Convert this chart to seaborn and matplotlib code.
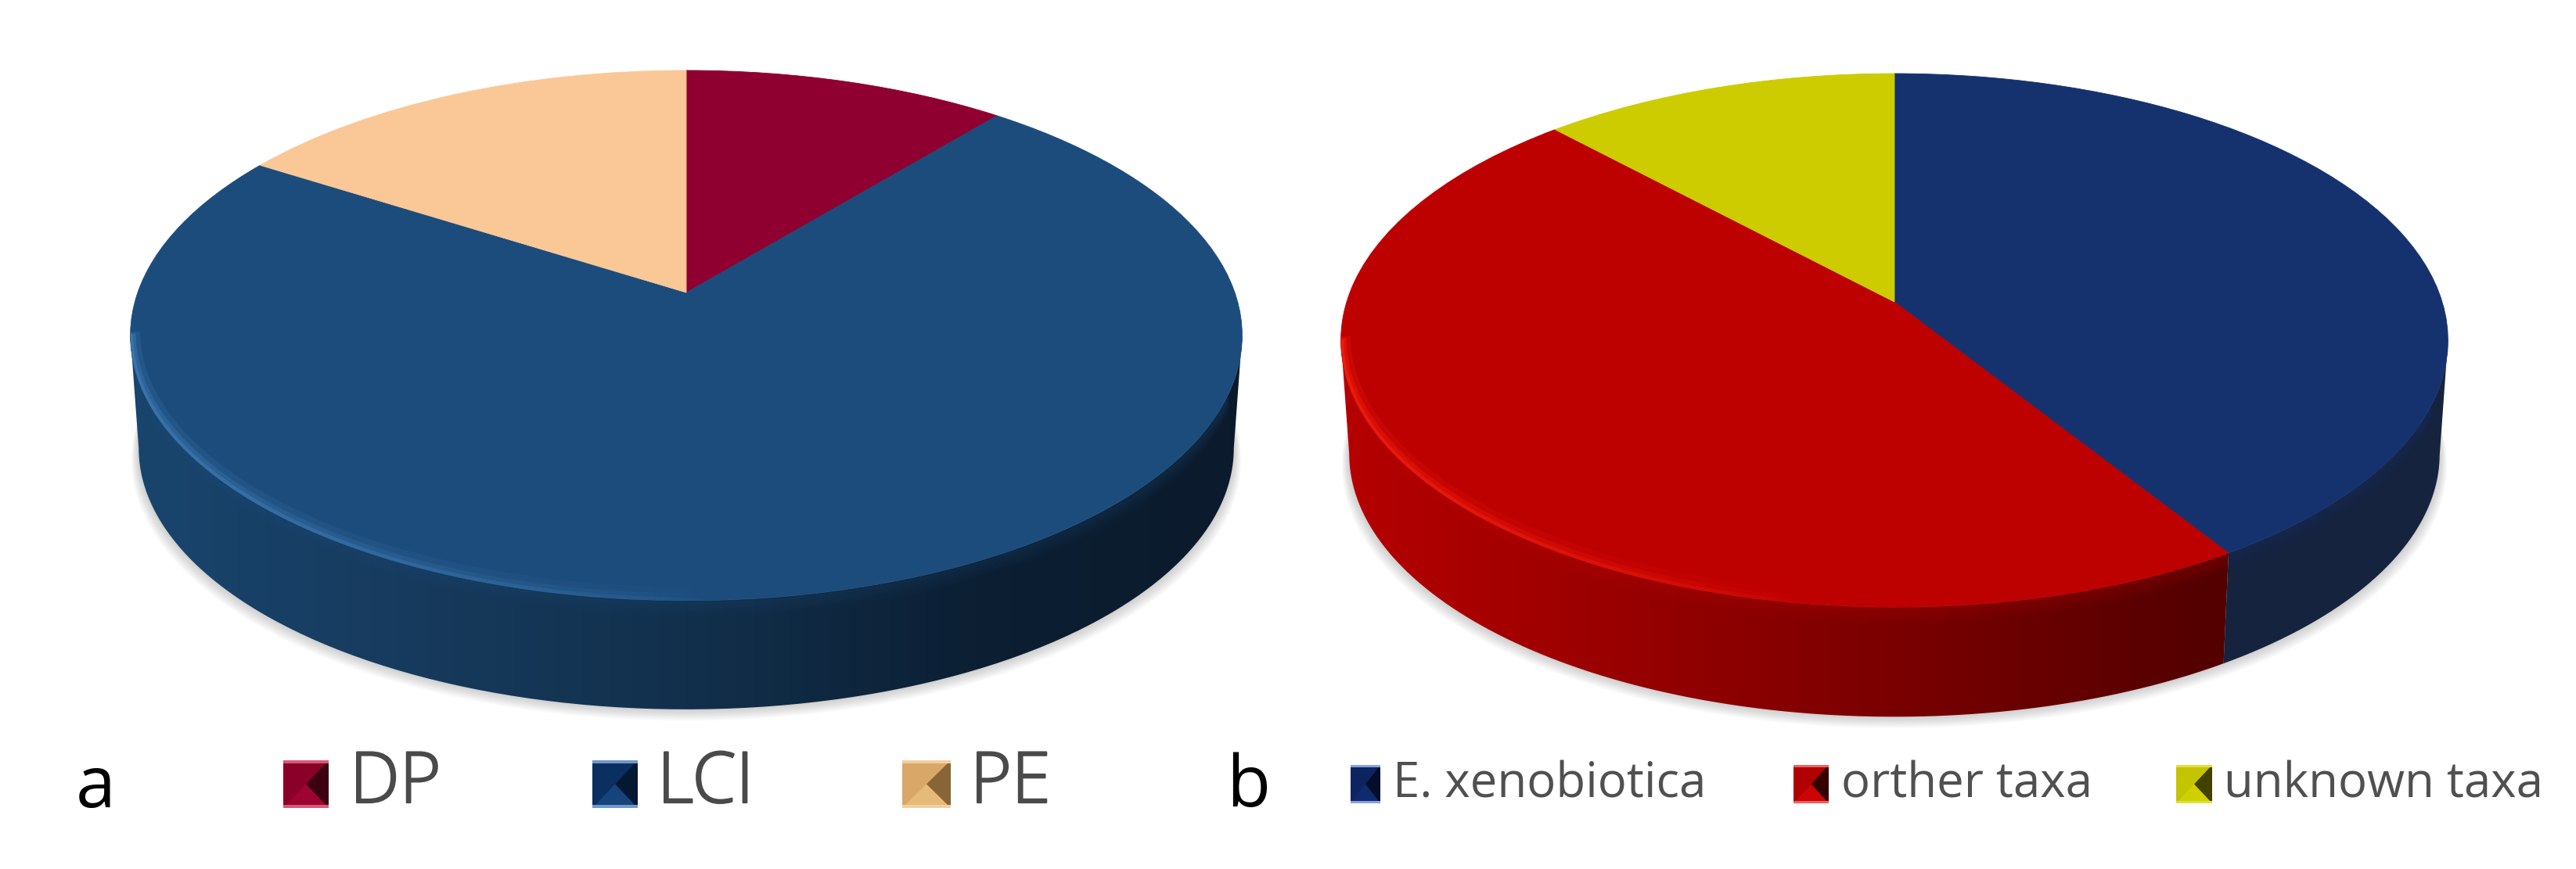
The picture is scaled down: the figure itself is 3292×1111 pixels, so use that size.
import numpy as np
import seaborn as sns
import matplotlib.pyplot as plt
import matplotlib.patheffects as pe
from matplotlib.collections import LineCollection
from matplotlib.colors import LinearSegmentedColormap, to_rgb
from matplotlib.patches import PathPatch
from matplotlib.path import Path
from matplotlib.transforms import Transform

# Panel a
labels_a = ["DP", "LCI", "PE"]
values_a = [11, 73, 16]
top_colors_a = ["#8f0030", "#1c4c7c", "#fac896"]
wall_colors_a = [
    ["#5a001e", "#5a001e"],
    ["#19466f", "#173b5e", "#12304c", "#0c1f33", "#0b1a2b"],
    ["#b08a60", "#b08a60"],
]
rim_colors_a = ["#b0204c", "#3f7ab2", "#ffe0b8"]

# Panel b
labels_b = ["E. xenobiotica", "orther taxa", "unknown taxa"]
values_b = [41, 47, 12]
top_colors_b = ["#15326f", "#bd0000", "#cccc00"]
wall_colors_b = [
    ["#15233f", "#15233f"],
    ["#b80000", "#9a0000", "#7a0000", "#560000", "#470000"],
    ["#8a8a00", "#8a8a00"],
]
rim_colors_b = ["#2a4a90", "#f42010", "#e8e820"]


class DiskProjection(Transform):
    # unit disk -> tilted perspective view of the pie, in pixel coordinates
    input_dims = 2
    output_dims = 2
    is_separable = False
    has_inverse = False

    def __init__(self, cx, cy, a, b, k):
        super().__init__()
        self.cx, self.cy, self.a, self.b, self.k = cx, cy, a, b, k

    def transform_non_affine(self, values):
        values = np.asarray(values, dtype=float)
        w = 1 + self.k * values[:, 1]
        return np.column_stack(
            [self.cx + self.a * values[:, 0] / w, self.cy - self.b * values[:, 1] / w]
        )


def arc_points(proj, t1, t2, n=200):
    t = np.radians(np.linspace(t1, t2, n))
    return proj.transform_non_affine(np.column_stack([np.cos(t), np.sin(t)]))


def draw_pie(ax, values, top_colors, wall_colors, rim_colors, geo, rim_end):
    cx, cy, a, b, k, drop, shrink = geo
    top = DiskProjection(cx, cy, a, b, k)
    low = DiskProjection(cx, cy + drop, a * shrink, b * shrink, k)

    wedges, _ = ax.pie(
        values,
        colors=top_colors,
        startangle=90,
        counterclock=False,
        wedgeprops={"linewidth": 0.6, "zorder": 5},
    )
    for wedge, color in zip(wedges, top_colors):
        wedge.set_edgecolor(color)
        wedge.set_transform(top + ax.transData)

    # soft shadow below the disc
    base = arc_points(low, 0, 360, 300)
    for off in np.arange(2, 18, 2):
        sx = cx + (base[:, 0] - cx) * (1 + off / 1200)
        ax.fill(sx, base[:, 1] + off * 0.9, color="#555555", alpha=0.035, lw=0, zorder=1)

    # the side shows between the two outermost points of the ellipse
    tilt = np.degrees(np.arcsin(k))
    for wedge, colors, top_c, rim_c in zip(wedges, wall_colors, top_colors, rim_colors):
        t1, t2 = wedge.theta1, wedge.theta2
        pts = []
        for lo, hi in [(t1, t2), (t1 + 360, t2 + 360), (t1 - 360, t2 - 360)]:
            s, e = max(lo, 180 + tilt), min(hi, 360 - tilt)
            if e > s:
                pts.append((s, e))
        for s, e in pts:
            ring = np.vstack([arc_points(top, s, e), arc_points(low, s, e)[::-1]])
            clip = PathPatch(Path(ring), transform=ax.transData, fc="none", ec="none")
            ax.add_patch(clip)
            cmap = LinearSegmentedColormap.from_list("wall", colors)
            im = ax.imshow(
                np.linspace(0, 1, 256)[None, :],
                cmap=cmap,
                extent=(cx - a - 40, cx + a + 40, cy + 600, cy - 400),
                aspect="auto",
                zorder=2,
            )
            im.set_clip_path(clip)

            # blur the fold between top face and side, not on the steep ends
            if min(e, 338) > max(s, 205):
                edge = arc_points(top, max(s, 205), min(e, 338))
                for off in range(2, 22, 3):
                    line, = ax.plot(
                        edge[:, 0], edge[:, 1] + off, color=top_c,
                        alpha=0.16 * (1 - off / 24), lw=3.5, zorder=3,
                        solid_capstyle="butt",
                    )
                    line.set_clip_path(clip)

            # light rim on the lower left, fading out to the right
            s2, e2 = s, min(e, rim_end)
            if e2 > s2:
                edge = arc_points(top, s2, e2, 300)
                segs = np.stack([edge[:-1], edge[1:]], axis=1)
                fade = np.linspace(1, 0, len(segs)) ** 0.6
                for lw, strength, dy in [(18, 0.25, -5), (10, 0.45, -3), (5, 0.8, -1)]:
                    rgba = np.zeros((len(segs), 4))
                    rgba[:, :3] = to_rgb(rim_c)
                    rgba[:, 3] = strength * fade
                    lc = LineCollection(
                        segs + np.array([0, dy]), colors=rgba, linewidths=lw,
                        capstyle="butt", zorder=6,
                    )
                    ax.add_collection(lc)
                    lc.set_clip_path(wedge)


def swatch(ax, x0, y0, x1, y1, base, light, dark, pale):
    xm, ym = (x0 + x1) / 2, (y0 + y1) / 2
    strip = (y1 - y0) * 0.06
    ax.fill([x0, x1, x1, x0], [y0, y0, y1, y1], color=base, lw=0, zorder=7)
    ax.fill([x1, x1, xm], [y0, y1, ym], color=dark, alpha=0.85, lw=0, zorder=8)
    ax.fill([x0, x1, xm], [y1, y1, ym], color=light, alpha=0.35, lw=0, zorder=8)
    ax.fill([x0, x1, x1, x0], [y0, y0, y0 + strip, y0 + strip], color=pale, lw=0, zorder=9)
    ax.fill([x0, x1, x1, x0], [y1 - strip, y1 - strip, y1, y1], color=pale, lw=0, zorder=9)


sns.set_theme(style="white")
plt.rcParams["font.family"] = ["Open Sans", "DejaVu Sans"]

fig = plt.figure(figsize=(32.92, 11.11), dpi=100)
ax = fig.add_axes([0, 0, 1, 1])

# cx, cy (apex), a, b, k, drop, shrink
draw_pie(ax, values_a, top_colors_a, wall_colors_a, rim_colors_a,
         (877, 374, 701, 330, 0.162, 145, 0.985), 272)
draw_pie(ax, values_b, top_colors_b, wall_colors_b, rim_colors_b,
         (2421, 386, 700, 334, 0.144, 146, 0.985), 262)

ax.set_aspect("auto")
ax.set_xlim(0, 3292)
ax.set_ylim(1111, 0)
ax.axis("off")

# Legend panel a
swatch(ax, 362, 972, 420, 1033, "#8a0028", "#c01040", "#30000f", "#d85878")
swatch(ax, 757, 972, 815, 1033, "#0a2f60", "#2a6cb0", "#03152b", "#6f98c8")
swatch(ax, 1153, 972, 1215, 1033, "#d9a868", "#ffe09a", "#7a5a30", "#f0d0a0")
for label, x in zip(labels_a, [447, 840, 1240]):
    ax.text(x, 1026, label, fontsize=65, color="#4a4a4a", ha="left", va="baseline",
            fontweight="light", zorder=10,
            path_effects=[pe.withStroke(linewidth=1.6, foreground="#4a4a4a")])

# Legend panel b
swatch(ax, 1726, 978, 1764, 1027, "#0c2560", "#17388a", "#020b24", "#8aa0d8")
swatch(ax, 2292, 978, 2337, 1027, "#b00000", "#ff1010", "#200000", "#f06060")
swatch(ax, 2781, 978, 2827, 1027, "#c4c400", "#e8e800", "#2a2a00", "#e0e040")
for label, x in zip(labels_b, [1780, 2353, 2842]):
    ax.text(x, 1020, label, fontsize=44.5, color="#505050", ha="left", va="baseline", zorder=10)

ax.text(97, 1032, "a", fontsize=66, color="black", ha="left", va="baseline", zorder=10)
ax.text(1567, 1031, "b", fontsize=66, color="black", ha="left", va="baseline", zorder=10)

fig.savefig("out.png", dpi=100, facecolor="white")
